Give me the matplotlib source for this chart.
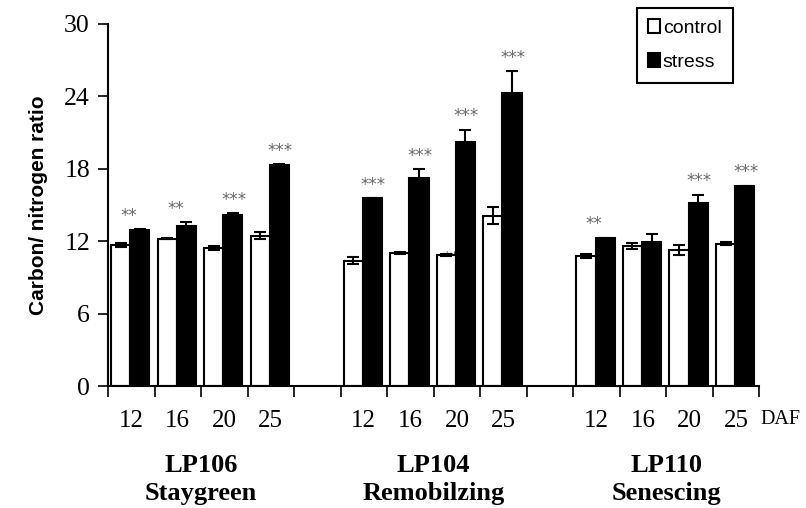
import numpy as np
import matplotlib.pyplot as plt

plt.rcParams['font.family'] = ['Liberation Serif', 'DejaVu Serif']

days = ["12", "16", "20", "25"]
lines = ["LP106\nStaygreen", "LP104\nRemobilzing", "LP110\nSenescing"]

control = [11.7, 12.2, 11.45, 12.45,
           10.4, 11.0, 10.85, 14.1,
           10.75, 11.6, 11.25, 11.8]
control_err = [0.15, 0.05, 0.15, 0.3,
               0.3, 0.1, 0.1, 0.7,
               0.15, 0.25, 0.4, 0.15]
stress = [12.9, 13.25, 14.2, 18.35,
          15.55, 17.25, 20.25, 24.25,
          12.25, 11.9, 15.15, 16.55]
stress_err = [0.1, 0.35, 0.1, 0.05,
              0.05, 0.7, 1.0, 1.85,
              0.05, 0.7, 0.7, 0.05]
stars = ["**", "**", "***", "***",
         "***", "***", "***", "***",
         "**", "", "***", "***"]

# slot positions: 4 days per line, one empty slot between lines
pos = np.array([g * 5 + d for g in range(3) for d in range(4)])
w = 0.41

fig = plt.figure(figsize=(8.06, 5.08), dpi=100)
ax = fig.add_axes([0.134, 0.240, 0.808, 0.713])

ax.bar(pos - w / 2 - 0.02, control, w, yerr=control_err, color='white',
       edgecolor='black', linewidth=1.5, label='control',
       error_kw=dict(ecolor='black', elinewidth=1.5, capsize=4, capthick=1.5), zorder=2)
# stray ** drawn under the stress bar of LP104 20
ax.text(pos[6] - 0.12, control[6] - 0.35, "**", color='#666666', fontsize=12,
        family='DejaVu Sans', ha='center', va='center', zorder=1)
ax.bar(pos + w / 2 - 0.02, stress, w, yerr=stress_err, color='black',
       edgecolor='black', linewidth=1.5, label='stress',
       error_kw=dict(ecolor='black', elinewidth=1.5, capsize=4, capthick=1.5), zorder=3)

for p, s, e, t in zip(pos, stress, stress_err, stars):
    if not t:
        continue
    x = p + w / 2 if t == "***" else p - 0.05
    ax.text(x, s + e + 0.35, t, color='#666666', fontsize=12,
            family='DejaVu Sans', ha='center', va='bottom')

ax.set_xlim(-0.5, 13.5)
ax.set_ylim(0, 30)
ax.set_yticks(np.arange(0, 31, 6))
ax.tick_params(axis='y', labelsize=18.5, length=7, width=1.2, direction='out', pad=6)

ax.set_xticks(np.arange(-0.5, 14, 1))
ax.set_xticklabels([])
ax.tick_params(axis='x', which='major', length=8, width=1.2, direction='out')
ax.set_xticks(pos, minor=True)
ax.set_xticklabels(days * 3, minor=True)
ax.tick_params(axis='x', which='minor', length=0, labelsize=18, pad=17)

for s in ['top', 'right']:
    ax.spines[s].set_visible(False)
for s in ['left', 'bottom']:
    ax.spines[s].set_linewidth(1.5)

ax.set_ylabel("Carbon/ nitrogen ratio", family='Liberation Sans', fontweight='bold',
              fontsize=15, labelpad=12)

ax.text(1.002, -0.093, "DAF", transform=ax.transAxes, fontsize=14.5, va='center', ha='left')
for g, name in enumerate(lines):
    ax.text(g * 5 + 1.5, -0.258, name, transform=ax.get_xaxis_transform(),
            fontsize=19, fontweight='bold', ha='center', va='center', linespacing=1.3)

leg = ax.legend(loc='upper right', bbox_to_anchor=(0.975, 1.072), fancybox=False,
                edgecolor='black', framealpha=1, prop={'family': 'Liberation Sans', 'size': 14},
                handlelength=0.6, handleheight=0.7, handletextpad=0.15, labelspacing=0.85,
                borderpad=0.6)
leg.get_frame().set_linewidth(1.5)

fig.savefig("out.png", dpi=100)
